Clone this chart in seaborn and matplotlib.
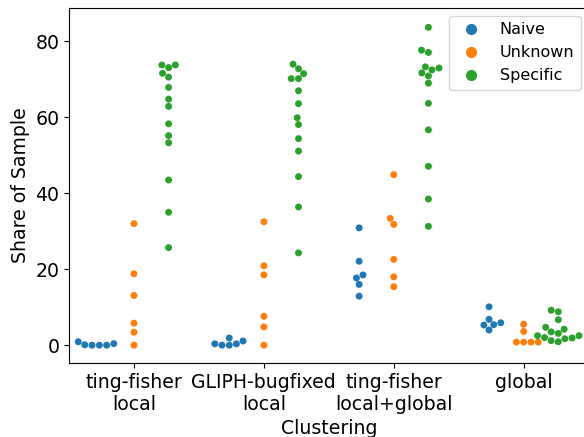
import pandas as pd
import numpy as np
import matplotlib
matplotlib.use("Agg")
import matplotlib.pyplot as plt
import seaborn as sns

# Values (share of sample, %)
clusterings = ["ting-fisher\nlocal", "GLIPH-bugfixed\nlocal", "ting-fisher\nlocal+global", "global"]
classes = ["Naive", "Unknown", "Specific"]

naive = [
    [0.4, 0.0, 0.0, 0.0, 0.1, 0.9],
    [0.35, 0.0, 0.0, 1.9, 0.35, 1.1],
    [30.9, 22.1, 17.7, 18.5, 16.0, 12.9],
    [10.1, 6.8, 5.3, 5.4, 5.9, 4.0],
]
unknown = [
    [32.0, 18.8, 13.1, 5.8, 3.4, 0.0],
    [32.5, 20.9, 18.5, 7.6, 4.8, 0.0],
    [44.9, 33.4, 31.8, 22.6, 18.0, 15.4],
    [5.5, 3.6, 0.8, 0.8, 0.8, 0.8],
]
specific = [
    [73.8, 73.8, 73.1, 71.6, 70.6, 67.9, 64.8, 62.9, 58.3, 55.2, 53.3, 43.5, 35.0, 25.7],
    [74.0, 72.8, 71.5, 70.2, 70.2, 67.0, 63.6, 59.9, 58.1, 54.4, 51.1, 44.4, 36.4, 24.3],
    [83.7, 77.7, 77.1, 73.3, 73.0, 72.5, 71.7, 70.9, 69.0, 63.7, 56.7, 47.1, 38.5, 31.3],
    [9.2, 8.8, 6.7, 3.5, 3.1, 4.2, 4.7, 2.5, 1.9, 1.2, 0.9, 1.7, 2.0, 2.5],
]

# build long-form table
rows = []
for cls, series in zip(classes, [naive, unknown, specific]):
    for clus, vals in zip(clusterings, series):
        for v in vals:
            rows.append({"Clustering": clus, "Share of Sample": v, "Type": cls})
df = pd.DataFrame(rows)

plt.rcParams["font.size"] = 13.6

fig = plt.figure(figsize=(5.84, 4.37), dpi=100)
ax = fig.add_axes([0.1182, 0.1693, 0.8897, 0.8124])

sns.swarmplot(data=df, x="Clustering", y="Share of Sample", hue="Type",
              order=clusterings, hue_order=classes, dodge=True, ax=ax)

ax.set_ylim(-4.7, 88.8)
ax.set_xlim(-0.5, 3.5)
ax.set_yticks([0, 20, 40, 60, 80])
ax.tick_params(labelsize=13.6)
ax.set_xlabel("Clustering", fontsize=13.6)
ax.set_ylabel("Share of Sample", fontsize=13.6)

handles, labels = ax.get_legend_handles_labels()
leg = ax.legend(handles, labels, loc="upper right", fontsize=11.5)
for h in leg.legend_handles:
    if hasattr(h, "set_markersize"):
        h.set_markersize(8)
    elif hasattr(h, "set_sizes"):
        h.set_sizes([64])

fig.savefig("out.png", dpi=100)
